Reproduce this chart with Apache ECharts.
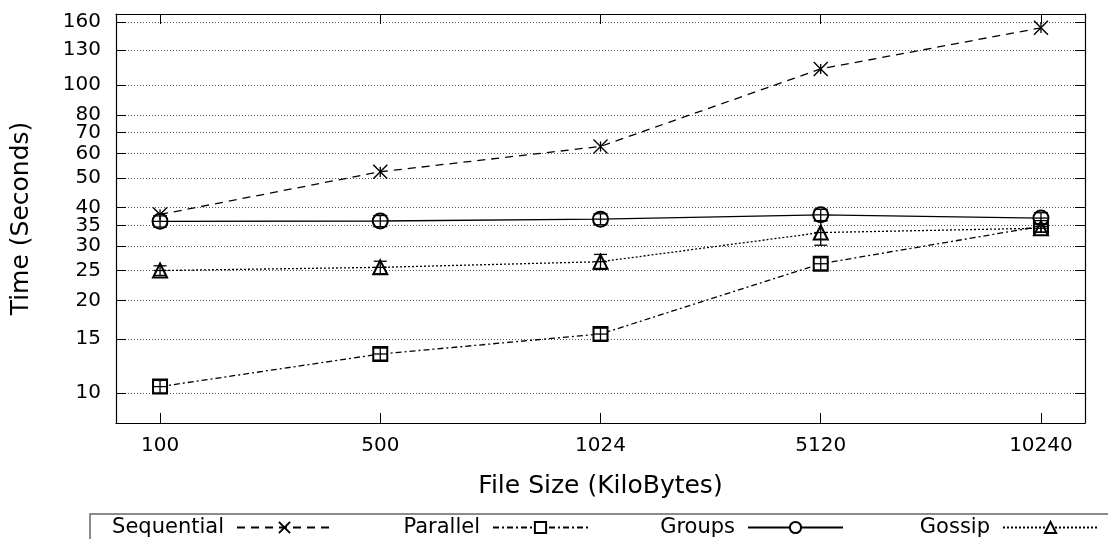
<!DOCTYPE html>
<html>
<head>
<meta charset="utf-8">
<script src="https://cdn.jsdelivr.net/npm/echarts@6/dist/echarts.min.js"></script>
<style>
  html, body { margin: 0; padding: 0; background: #fff; }
  #chart { width: 1108px; height: 539px; }
</style>
</head>
<body>
<div id="chart"></div>
<script>
const categories = ['100', '500', '1024', '5120', '10240'];
const yTicks = [10, 15, 20, 25, 30, 35, 40, 50, 60, 70, 80, 100, 130, 160];
const seriesNames = ['Sequential', 'Parallel', 'Groups', 'Gossip'];

// mean time (seconds) per file size
const sequential = [38.0, 52.3, 63.2, 112.8, 153.3];
const parallel = [10.5, 13.4, 15.55, 26.3, 34.8];
const groups = [36.1, 36.2, 36.7, 37.9, 37.0];
const gossip = [25.0, 25.6, 26.7, 33.2, 34.3];

// half-width of the error bars (seconds)
const sequentialErr = [1.5, 2.0, 2.4, 4.3, 5.8];
const parallelErr = [0.5, 0.6, 0.7, 1.2, 1.5];
const groupsErr = [1.5, 1.5, 1.5, 1.6, 1.5];
const gossipErr = [0.9, 1.2, 1.5, 3.0, 1.0];

const FONT = 'DejaVu Sans';
const chart = echarts.init(document.getElementById('chart'));

const toPoints = vals => vals.map((v, i) => [i, v]);
const toErr = (vals, errs) => vals.map((v, i) => [i, v - errs[i], v + errs[i], v]);

function errorBars(capHalf) {
  return function (params, api) {
    const x = api.value(0);
    const lo = api.coord([x, api.value(1)]);
    const hi = api.coord([x, api.value(2)]);
    const mid = api.coord([x, api.value(3)]);
    const style = { stroke: '#000', lineWidth: 1.3 };
    const children = [
      { type: 'line', shape: { x1: lo[0], y1: lo[1], x2: hi[0], y2: hi[1] }, style }
    ];
    if (capHalf) {
      [lo, hi, mid].forEach(p => {
        children.push({
          type: 'line',
          shape: { x1: p[0] - capHalf, y1: p[1], x2: p[0] + capHalf, y2: p[1] },
          style
        });
      });
    }
    return { type: 'group', children };
  };
}

const lineSeries = (name, data, symbol, size, dash) => ({
  name,
  type: 'line',
  data: toPoints(data),
  symbol,
  symbolSize: size,
  showSymbol: true,
  z: 3,
  lineStyle: { color: '#000', width: 1.3, type: dash },
  itemStyle: { color: '#000', borderColor: '#000', borderWidth: 1.4 },
  emphasis: { disabled: true },
  animation: false
});

const errSeries = (name, data, errs, capHalf) => ({
  name: name + ' err',
  type: 'custom',
  data: toErr(data, errs),
  encode: { x: 0, y: [1, 2] },
  renderItem: errorBars(capHalf),
  z: 4,
  silent: true,
  animation: false
});

const yAxisBase = {
  type: 'log',
  min: 8,
  max: 170,
  axisLine: { show: true, onZero: false, lineStyle: { color: '#000', width: 1.2 } },
  axisTick: {
    show: true, inside: true, length: 10,
    customValues: yTicks,
    lineStyle: { color: '#000', width: 1 }
  }
};

const xAxisBase = {
  type: 'value',
  min: -0.2,
  max: 4.2,
  axisLine: { show: true, onZero: false, lineStyle: { color: '#000', width: 1.2 } },
  axisTick: {
    show: true, inside: true, length: 10,
    customValues: [0, 1, 2, 3, 4],
    lineStyle: { color: '#000', width: 1 }
  },
  splitLine: { show: false }
};

// one legend per entry: gnuplot keeps the samples in fixed columns, text right-aligned before them
const legendRight = [775, 519, 264, 9];
const legends = seriesNames.map((name, i) => ({
  data: [name],
  right: legendRight[i],
  top: 517,
  padding: 0,
  align: 'right',
  itemWidth: 95,
  itemHeight: 14,
  selectedMode: false,
  textStyle: {
    fontFamily: FONT, fontSize: 21, color: '#000',
    padding: [0, 8, 0, 0]
  }
}));

const option = {
  backgroundColor: '#fff',
  textStyle: { fontFamily: FONT },
  grid: { left: 116, right: 23, top: 14, bottom: 116, containLabel: false },
  xAxis: [
    Object.assign({}, xAxisBase, {
      position: 'bottom',
      name: 'File Size (KiloBytes)',
      nameLocation: 'middle',
      nameGap: 51,
      nameTextStyle: { fontFamily: FONT, fontSize: 25, color: '#000', verticalAlign: 'top' },
      axisLabel: {
        show: true, margin: 13,
        customValues: [0, 1, 2, 3, 4],
        formatter: v => categories[Math.round(v)],
        fontFamily: FONT, fontSize: 20, color: '#000'
      }
    }),
    Object.assign({}, xAxisBase, {
      position: 'top',
      axisLabel: { show: false }
    })
  ],
  yAxis: [
    Object.assign({}, yAxisBase, {
      position: 'left',
      name: 'Time (Seconds)',
      nameLocation: 'middle',
      nameGap: 82,
      nameTextStyle: { fontFamily: FONT, fontSize: 25, color: '#000' },
      axisLabel: {
        show: true, margin: 15,
        customValues: yTicks,
        formatter: v => String(Math.round(v)),
        fontFamily: FONT, fontSize: 20, color: '#000'
      },
      splitLine: {
        show: true,
        lineStyle: { color: '#555', width: 1, type: [1, 2] }
      }
    }),
    Object.assign({}, yAxisBase, {
      position: 'right',
      axisLabel: { show: false },
      splitLine: { show: false }
    })
  ],
  legend: legends,
  graphic: [{
    type: 'rect',
    shape: { x: 90, y: 514, width: 1100, height: 60 },
    style: { fill: 'none', stroke: '#666', lineWidth: 1.5 },
    silent: true,
    z: 0
  }],
  series: [
    lineSeries('Sequential', sequential, 'path://M0,0L10,10M10,0L0,10', 14, [8, 6]),
    lineSeries('Parallel', parallel, 'emptyRect', 14, [6, 3, 2, 3]),
    lineSeries('Groups', groups, 'emptyCircle', 15, 'solid'),
    lineSeries('Gossip', gossip, 'emptyTriangle', 14, [2, 2]),
    errSeries('Sequential', sequential, sequentialErr, 0),
    errSeries('Parallel', parallel, parallelErr, 7),
    errSeries('Groups', groups, groupsErr, 7),
    errSeries('Gossip', gossip, gossipErr, 6.5)
  ]
};

chart.setOption(option);
</script>
</body>
</html>
